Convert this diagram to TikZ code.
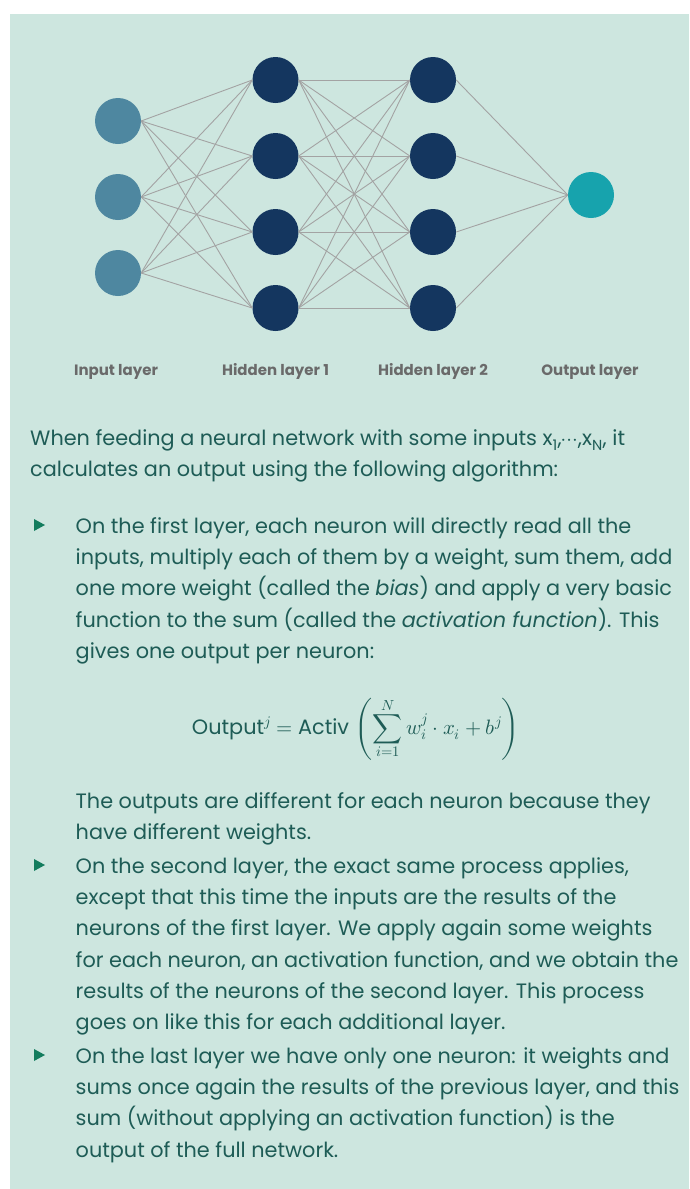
\documentclass[tikz,border=0pt]{standalone}
\usepackage{fontspec}
\usepackage{unicode-math}
\setmainfont{Poppins}
\setmathfont{Latin Modern Math}
\definecolor{bg}{HTML}{CDE6DF}
\definecolor{inpc}{HTML}{4E87A0}
\definecolor{hidc}{HTML}{14365F}
\definecolor{outc}{HTML}{17A3AD}
\definecolor{edgec}{HTML}{A3A3A3}
\definecolor{labc}{HTML}{6A6A6A}
\definecolor{txtc}{HTML}{1E5C56}
\definecolor{bulc}{HTML}{137D5E}
\begin{document}
\begin{tikzpicture}[x=1pt,y=-1pt,
  neuron/.style={circle,minimum size=46pt,inner sep=0pt,draw=none},
  inp/.style={neuron,fill=inpc},
  hid/.style={neuron,fill=hidc},
  outn/.style={neuron,fill=outc},
  conn/.style={draw=edgec,line width=0.9pt},
  lab/.style={anchor=base,inner sep=0pt,text=labc,font=\fontsize{15}{18}\selectfont\bfseries},
  txt/.style={anchor=base west,inner sep=0pt,text=txtc,font=\fontsize{20.8}{24}\selectfont},
  bul/.style={fill=bulc,draw=none}]
\useasboundingbox (0,0) rectangle (689,1189);
\fill[white] (0,0) rectangle (689,1189);
\fill[bg] (10,14) rectangle (689,1189);
% neurons
\foreach \n/\y in {1/121,2/197,3/273} \node[inp] (i\n) at (118,\y) {};
\foreach \n/\y in {1/80,2/156,3/232,4/308} {
  \node[hid] (a\n) at (275.5,\y) {};
  \node[hid] (b\n) at (433,\y) {};
}
\node[outn] (o) at (591,195) {};
% connections
\foreach \i in {1,2,3} \foreach \j in {1,2,3,4} \draw[conn] (i\i.east) -- (a\j.west);
\foreach \i in {1,2,3,4} \foreach \j in {1,2,3,4} \draw[conn] (a\i.east) -- (b\j.west);
\foreach \i in {1,2,3,4} \draw[conn] (b\i.east) -- (o.west);
% layer labels
\node[lab] (l1) at (116,375) {Input layer};
\node[lab] (l2) at (275.5,375) {Hidden layer 1};
\node[lab] (l3) at (433,375) {Hidden layer 2};
\node[lab] (l4) at (590,375) {Output layer};
% intro
\node[txt] (p1) at (30,445) {When feeding a neural network with some inputs x\textsubscript{1},$\cdots$,x\textsubscript{N}, it};
\node[txt] (p2) at (30,476) {calculates an output using the following algorithm:};
% bullet 1
\fill[bul] (34,519) -- (34,531) -- (45,525) -- cycle;
\node[txt] (b1a) at (75.5,533) {On the first layer, each neuron will directly read all the};
\node[txt] (b1b) at (75.5,564.3) {inputs, multiply each of them by a weight, sum them, add};
\node[txt] (b1c) at (75.5,595.6) {one more weight (called the \textit{bias}) and apply a very basic};
\node[txt] (b1d) at (75.5,627) {function to the sum (called the \textit{activation function}). This};
\node[txt] (b1e) at (75.5,658) {gives one output per neuron:};
\node[anchor=base,inner sep=0pt,text=txtc,font=\fontsize{20.8}{24}\selectfont] (f) at (356,734)
  {Output$^j$ $=$ Activ $\displaystyle\left(\sum_{i=1}^{N} w_i^j\cdot x_i + b^j\right)$};
\node[txt] (b1f) at (75.5,808) {The outputs are different for each neuron because they};
\node[txt] (b1g) at (75.5,839) {have different weights.};
% bullet 2
\fill[bul] (34,859) -- (34,871) -- (45,865) -- cycle;
\node[txt] (b2a) at (75.5,873) {On the second layer, the exact same process applies,};
\node[txt] (b2b) at (75.5,904.3) {except that this time the inputs are the results of the};
\node[txt] (b2c) at (75.5,935.6) {neurons of the first layer. We apply again some weights};
\node[txt] (b2d) at (75.5,967) {for each neuron, an activation function, and we obtain the};
\node[txt] (b2e) at (75.5,998.3) {results of the neurons of the second layer. This process};
\node[txt] (b2f) at (75.5,1029.6) {goes on like this for each additional layer.};
% bullet 3
\fill[bul] (34,1049) -- (34,1061) -- (45,1055) -- cycle;
\node[txt] (b3a) at (75.5,1063) {On the last layer we have only one neuron: it weights and};
\node[txt] (b3b) at (75.5,1094.3) {sums once again the results of the previous layer, and this};
\node[txt] (b3c) at (75.5,1125.6) {sum (without applying an activation function) is the};
\node[txt] (b3d) at (75.5,1157) {output of the full network.};
\end{tikzpicture}
\end{document}
